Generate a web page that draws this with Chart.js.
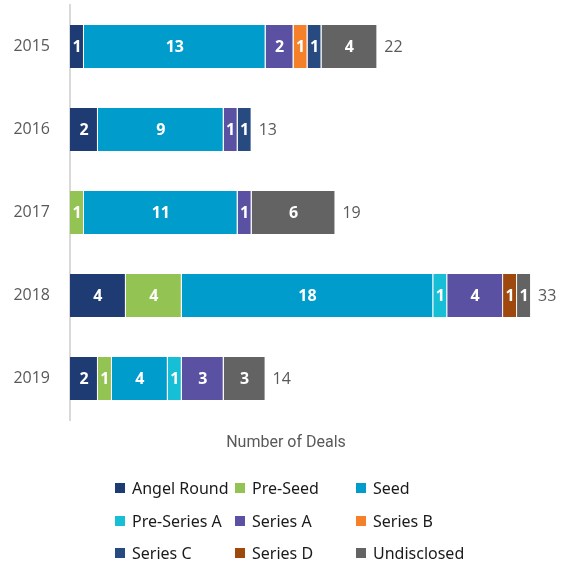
<!DOCTYPE html>
<html>
<head>
<meta charset="utf-8">
<script src="https://cdn.jsdelivr.net/npm/chart.js@4"></script>
<style>
  html, body { margin: 0; padding: 0; background: #fff; }
  #wrap { width: 564px; height: 563px; }
</style>
</head>
<body>
<div id="wrap"><canvas id="deals"></canvas></div>
<script>
// años y series (número de deals por ronda)
const years = ['2015', '2016', '2017', '2018', '2019'];
const seriesNames = ['Angel Round', 'Pre-Seed', 'Seed', 'Pre-Series A', 'Series A', 'Series B', 'Series C', 'Series D', 'Undisclosed'];
const angelRound  = [1, 2, 0, 4, 2];
const preSeed     = [0, 0, 1, 4, 1];
const seed        = [13, 9, 11, 18, 4];
const preSeriesA  = [0, 0, 0, 1, 1];
const seriesA     = [2, 1, 1, 4, 3];
const seriesB     = [1, 0, 0, 0, 0];
const seriesC     = [1, 1, 0, 0, 0];
const seriesD     = [0, 0, 0, 1, 0];
const undisclosed = [4, 0, 6, 1, 3];
const axisTitle = 'Number of Deals';

const seriesValues = [angelRound, preSeed, seed, preSeriesA, seriesA, seriesB, seriesC, seriesD, undisclosed];
const colors = ['#1f3b73', '#92c353', '#009ccc', '#17bfd6', '#5b51a3', '#f5802a', '#274a80', '#9e480e', '#636363'];

const datasets = seriesNames.map((name, i) => ({
  label: name,
  data: seriesValues[i].map(v => v === 0 ? null : v),
  backgroundColor: colors[i],
  borderColor: '#ffffff',
  borderWidth: { top: 0, bottom: 0, left: 0, right: 1 },
  borderSkipped: false,
  barPercentage: 0.52,
  categoryPercentage: 1
}));

// etiquetas dentro de las barras, totales, título y leyenda
const labelsPlugin = {
  id: 'labelsPlugin',
  afterDatasetsDraw(chart) {
    const ctx = chart.ctx;
    const xScale = chart.scales.x;
    ctx.save();
    ctx.textBaseline = 'middle';
    ctx.textAlign = 'center';
    ctx.font = 'bold 16px "Noto Sans"';
    ctx.fillStyle = '#ffffff';
    chart.data.datasets.forEach((ds, di) => {
      const meta = chart.getDatasetMeta(di);
      meta.data.forEach((bar, i) => {
        const v = ds.data[i];
        if (!v) return;
        const x0 = Math.min(bar.x, bar.base), x1 = Math.max(bar.x, bar.base);
        ctx.fillText(String(v), (x0 + x1) / 2, bar.y + 1);
      });
    });
    // totales
    ctx.textAlign = 'left';
    ctx.font = '16px "Open Sans"';
    ctx.fillStyle = '#595959';
    const meta0 = chart.getDatasetMeta(0);
    years.forEach((y, i) => {
      const total = seriesValues.reduce((s, arr) => s + arr[i], 0);
      const px = xScale.getPixelForValue(total) + 7;
      ctx.fillText(String(total), px, meta0.data[i].y + 1);
    });
    ctx.restore();
  },
  afterDraw(chart) {
    const ctx = chart.ctx;
    ctx.save();
    ctx.textBaseline = 'middle';
    ctx.textAlign = 'center';
    ctx.font = '16px Roboto';
    ctx.fillStyle = '#595959';
    ctx.fillText(axisTitle, 286, 443);

    const colX = [115, 235, 356];
    const rowY = [488, 521, 553];
    ctx.textAlign = 'left';
    ctx.font = '16px "Noto Sans"';
    seriesNames.forEach((name, i) => {
      const x = colX[i % 3], y = rowY[Math.floor(i / 3)];
      ctx.fillStyle = colors[i];
      ctx.fillRect(x, y - 5, 10, 10);
      ctx.fillStyle = '#1a1a1a';
      ctx.fillText(name, x + 17, y + 1);
    });
    ctx.restore();
  }
};

new Chart(document.getElementById('deals'), {
  type: 'bar',
  data: { labels: years, datasets: datasets },
  options: {
    indexAxis: 'y',
    responsive: true,
    maintainAspectRatio: false,
    animation: false,
    layout: { padding: { top: 5, right: 5, bottom: 143, left: 0 } },
    plugins: {
      legend: { display: false },
      tooltip: { enabled: false }
    },
    scales: {
      x: {
        stacked: true,
        min: 0,
        max: 35,
        display: false
      },
      y: {
        stacked: true,
        grid: { display: false },
        border: { display: true, color: '#d9d9d9', width: 2 },
        ticks: { color: '#595959', font: { family: 'Open Sans', size: 16 }, padding: 12 },
        afterFit(scale) {
          scale.width = 70;
          scale.paddingTop = 0;
          scale.paddingBottom = 0;
        }
      }
    }
  },
  plugins: [labelsPlugin]
});
</script>
</body>
</html>
